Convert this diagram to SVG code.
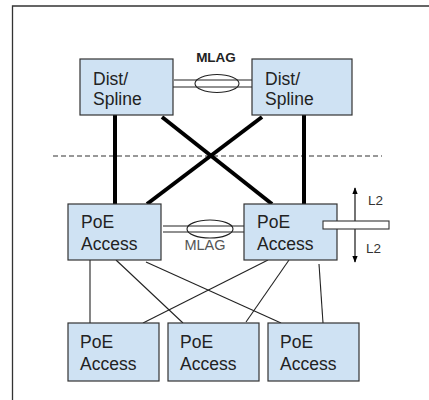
<svg xmlns="http://www.w3.org/2000/svg" width="429" height="400" viewBox="0 0 429 400">
<style>
.box{fill:#cfe2f3;stroke:#333;stroke-width:1.2}
.lbl{font-family:"Liberation Sans",Arial,sans-serif;font-size:17.5px;fill:#222}
.sm{font-family:"Liberation Sans",Arial,sans-serif;font-size:13.5px;fill:#333}
.thick{stroke:#000;stroke-width:4;fill:none}
.thin{stroke:#222;stroke-width:1.1;fill:none}
</style>
<defs>
<marker id="ah" viewBox="0 0 10 10" refX="9" refY="5" markerWidth="6" markerHeight="6" orient="auto-start-reverse">
<path d="M0,1 L10,5 L0,9 z" fill="#000"/>
</marker>
</defs>
<rect width="429" height="400" fill="#fff"/>
<path d="M12.5,400 V6 H429" fill="none" stroke="#333" stroke-width="1.3"/>
<line x1="53" y1="156" x2="382" y2="156" stroke="#333" stroke-width="1.1" stroke-dasharray="5,3"/>
<g id="connectors">
<line class="thick" x1="115" y1="115" x2="115" y2="204"/>
<line class="thick" x1="304" y1="115" x2="304" y2="204"/>
<line class="thick" x1="162" y1="117" x2="272" y2="204"/>
<line class="thick" x1="262" y1="117" x2="147" y2="204"/>
<line class="thin" x1="90" y1="260" x2="90" y2="323"/>
<line class="thin" x1="116" y1="260" x2="183" y2="323"/>
<line class="thin" x1="146" y1="262" x2="281" y2="323"/>
<line class="thin" x1="268" y1="260" x2="143" y2="323"/>
<line class="thin" x1="289" y1="260" x2="246" y2="322"/>
<line class="thin" x1="319" y1="264" x2="323" y2="323"/>
<line class="thin" x1="174" y1="80" x2="258" y2="80"/>
<line class="thin" x1="169" y1="87" x2="252" y2="87"/>
<ellipse cx="217" cy="83.5" rx="22" ry="9" fill="none" stroke="#222" stroke-width="1.1"/>
<line class="thin" x1="163" y1="226" x2="247" y2="226"/>
<line class="thin" x1="163" y1="232" x2="247" y2="232"/>
<ellipse cx="210" cy="229" rx="23" ry="9" fill="none" stroke="#222" stroke-width="1.1"/>
</g>
<text x="216" y="62" class="sm" text-anchor="middle" style="font-weight:bold;font-size:13.5px;fill:#222">MLAG</text>
<text x="205" y="250" class="sm" text-anchor="middle" style="fill:#555;font-size:14.5px">MLAG</text>
<g id="dist1"><rect class="box" x="80" y="59" width="93" height="56"/><text class="lbl" x="93" y="85">Dist/</text><text class="lbl" x="93" y="105">Spline</text></g>
<g id="dist2"><rect class="box" x="252" y="59" width="100" height="56"/><text class="lbl" x="265" y="85">Dist/</text><text class="lbl" x="265" y="105">Spline</text></g>
<g id="poe1"><rect class="box" x="68" y="204" width="93" height="56"/><text class="lbl" x="81" y="228">PoE</text><text class="lbl" x="81" y="250">Access</text></g>
<g id="poe2"><rect class="box" x="244" y="204" width="93" height="56"/><text class="lbl" x="257" y="228">PoE</text><text class="lbl" x="257" y="250">Access</text></g>
<g id="poe3"><rect class="box" x="68" y="323" width="91" height="58"/><text class="lbl" x="80" y="348">PoE</text><text class="lbl" x="80" y="370">Access</text></g>
<g id="poe4"><rect class="box" x="168" y="323" width="91" height="58"/><text class="lbl" x="180" y="348">PoE</text><text class="lbl" x="180" y="370">Access</text></g>
<g id="poe5"><rect class="box" x="268" y="323" width="91" height="58"/><text class="lbl" x="280" y="348">PoE</text><text class="lbl" x="280" y="370">Access</text></g>
<g id="l2">
<line x1="355" y1="188" x2="355" y2="262" stroke="#000" stroke-width="1.1" marker-start="url(#ah)" marker-end="url(#ah)"/>
<rect x="323" y="221" width="66" height="8" fill="#fff" stroke="#333" stroke-width="1.1"/>
<text class="sm" x="368" y="205">L2</text>
<text class="sm" x="366" y="253">L2</text>
</g>
</svg>
